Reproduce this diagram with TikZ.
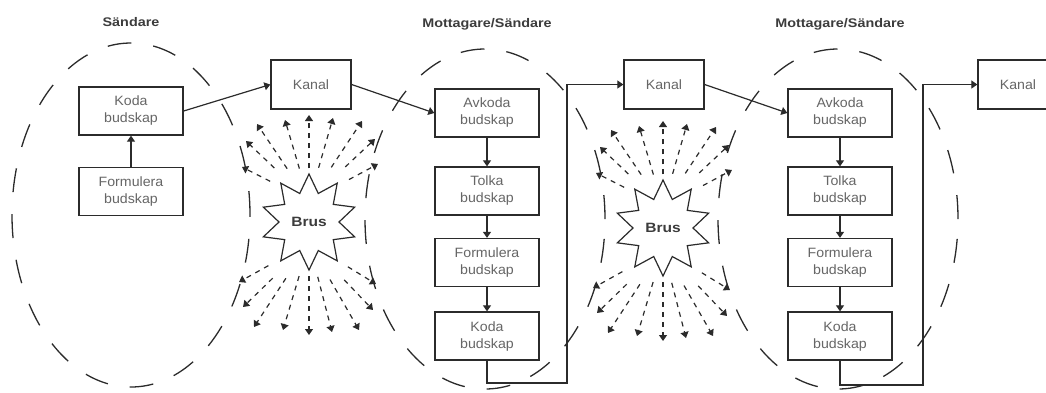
\documentclass[tikz,border=0pt]{standalone}
\usepackage{fontspec}
\setmainfont{Liberation Sans}
\newfontfamily\boxfont[FakeStretch=1.05]{Liberation Sans}
\newfontfamily\ttlfont[FakeStretch=1.15]{Liberation Sans}
\usetikzlibrary{arrows.meta,shapes.geometric}
\definecolor{ln}{HTML}{2B2B2B}
\definecolor{txt}{HTML}{666666}
\definecolor{ttl}{HTML}{3C3C3C}
\begin{document}
\begin{tikzpicture}[x=1pt,y=-1pt,
  box/.style={draw=ln,fill=white,line width=1.3pt,minimum width=104pt,minimum height=48pt,inner sep=0pt,align=center,text=txt,font=\boxfont\fontsize{13.5}{17}\selectfont},
  kbox/.style={box,minimum width=80pt,minimum height=49pt},
  title/.style={text=ttl,font=\ttlfont\bfseries\fontsize{12.5}{15}\selectfont},
  conn/.style={draw=ln,line width=1.2pt,-{Triangle[length=6pt,width=8pt]}},
  ray/.style={draw=ln,line width=1.2pt,dash pattern=on 5pt off 5pt,-{Triangle[length=6pt,width=8pt]}},
  ell/.style={draw=ln,line width=1.3pt,dash pattern=on 24pt off 22pt},
  brus/.style={star,star points=10,star point ratio=1.6,minimum size=96pt,inner sep=0pt,draw=ln,line width=1.2pt,fill=white,font=\ttlfont\bfseries\fontsize{13.5}{15}\selectfont,text=ttl}
]
\useasboundingbox (0,0) rectangle (1046,392);
\begin{scope}
\clip (0,0) rectangle (1046,392);
% ellipses
\draw[ell] (131,215) ellipse [x radius=119pt, y radius=172pt];
\draw[ell] (485,219) ellipse [x radius=120pt, y radius=170pt];
\draw[ell] (838,219) ellipse [x radius=120pt, y radius=170pt];
% titles
\node[title] (t1) at (131,22) {Sändare};
\node[title] (t2) at (487,24) {Mottagare/Sändare};
\node[title] (t3) at (840,24) {Mottagare/Sändare};
% noise stars
\node[brus] (s1) at (309,222) {Brus};
\node[brus] (s2) at (663,228) {Brus};
\foreach \s in {s1,s2}{
 % upper fan, focal point 21 above the centre: dx/dy/start fraction
 \foreach \dx/\dy/\fr in {-67/-34/0.58,-63/-60/0.55,-52/-77/0.42,-24/-81/0.4,0/-86/0.38,24/-83/0.4,53/-80/0.42,66/-62/0.55,69/-37/0.58}{
  \draw[ray] ([shift={(\fr*\dx,\fr*\dy-21)}]\s.center) -- ([shift={(\dx,\dy-21)}]\s.center);
 }
 % lower fan, focal point 21 below the centre
 \foreach \dx/\dy/\fr in {-70/39/0.58,-66/64/0.55,-55/84/0.42,-26/87/0.38,0/92/0.36,23/89/0.38,50/87/0.42,64/67/0.55,67/41/0.58}{
  \draw[ray] ([shift={(\fr*\dx,\fr*\dy+21)}]\s.center) -- ([shift={(\dx,\dy+21)}]\s.center);
 }}
% left sender
\node[box] (lk) at (131,111) {Koda\\budskap};
\node[box] (lf) at (131,191.5) {Formulera\\budskap};
% channels
\node[kbox] (c1) at (311,84.5) {Kanal};
\node[kbox] (c2) at (664,84.5) {Kanal};
\node[kbox] (c3) at (1018,84.5) {Kanal};
% middle
\node[box] (ma) at (487,113) {Avkoda\\budskap};
\node[box] (mt) at (487,191) {Tolka\\budskap};
\node[box] (mf) at (487,262.5) {Formulera\\budskap};
\node[box] (mk) at (487,336) {Koda\\budskap};
% right
\node[box] (ra) at (840,113) {Avkoda\\budskap};
\node[box] (rt) at (840,191) {Tolka\\budskap};
\node[box] (rf) at (840,262.5) {Formulera\\budskap};
\node[box] (rk) at (840,336) {Koda\\budskap};
% connectors
\draw[conn] (lf) -- (lk);
\draw[conn] (lk.east) -- (c1.west);
\draw[conn] (c1.east) -- (ma.west);
\draw[conn] (ma) -- (mt);
\draw[conn] (mt) -- (mf);
\draw[conn] (mf) -- (mk);
\coordinate (b1) at (567,383);
\draw[conn] (mk.south) |- (b1) |- (c2.west);
\draw[conn] (c2.east) -- (ra.west);
\draw[conn] (ra) -- (rt);
\draw[conn] (rt) -- (rf);
\draw[conn] (rf) -- (rk);
\coordinate (b2) at (923,385);
\draw[conn] (rk.south) |- (b2) |- (c3.west);
\end{scope}
\end{tikzpicture}
\end{document}
